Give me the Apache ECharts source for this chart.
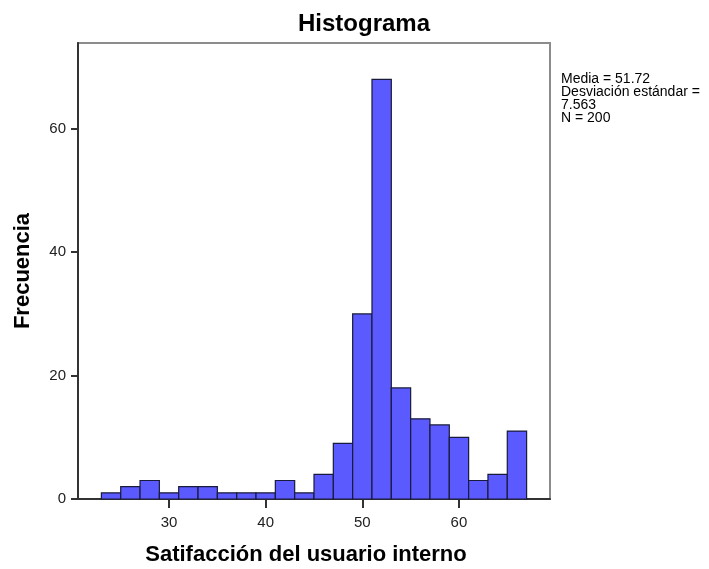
<!DOCTYPE html>
<html>
<head>
<meta charset="utf-8">
<script src="https://cdn.jsdelivr.net/npm/echarts@6/dist/echarts.min.js"></script>
<style>html,body{margin:0;padding:0;background:#fff}#c{width:709px;height:569px}</style>
</head>
<body>
<div id="c"></div>
<script>
// Bin edges (lower edge of each 2-unit bin) and counts
const binStarts = [23,25,27,29,31,33,35,37,39,41,43,45,47,49,51,53,55,57,59,61,63,65];
const binWidth = 2;
const counts = [1,2,3,1,2,2,1,1,1,3,1,4,9,30,68,18,13,12,10,3,4,11];
const xTicks = [30,40,50,60];
const yTicks = [0,20,40,60];
const statsLines = ['Media = 51.72','Desviación estándar =','7.563','N = 200'];

const data = binStarts.map((s,i)=>[s, s+binWidth, counts[i]]);
const font = '"Liberation Sans", Arial, sans-serif';

const chart = echarts.init(document.getElementById('c'));
chart.setOption({
  animation:false,
  title:{text:'Histograma',left:359,top:7,textAlign:'center',
    textStyle:{fontFamily:font,fontWeight:'bold',fontSize:24,color:'#000'}},
  grid:{left:78,top:43,right:159,bottom:70,show:true,borderColor:'#8c8c8c',borderWidth:2,
    containLabel:false,outerBoundsMode:'none'},
  xAxis:{type:'value',min:20.58,max:69.42,
    name:'Satifacción del usuario interno',nameLocation:'middle',nameGap:45,
    nameTextStyle:{fontFamily:font,fontWeight:'bold',fontSize:22,color:'#000',padding:[0,0,0,-16]},
    axisLine:{show:true,lineStyle:{color:'#333',width:2}},
    axisTick:{show:true,length:9,customValues:xTicks,lineStyle:{color:'#333',width:2}},
    axisLabel:{customValues:xTicks,fontFamily:font,fontSize:15,color:'#222',margin:16},
    splitLine:{show:false}},
  yAxis:{type:'value',min:0,max:73.9,
    name:'Frecuencia',nameLocation:'middle',nameGap:44,
    nameTextStyle:{fontFamily:font,fontWeight:'bold',fontSize:22,color:'#000'},
    axisLine:{show:true,lineStyle:{color:'#333',width:2}},
    axisTick:{show:true,length:7,customValues:yTicks,lineStyle:{color:'#333',width:2}},
    axisLabel:{customValues:yTicks,fontFamily:font,fontSize:15,color:'#222',margin:12},
    splitLine:{show:false}},
  graphic:[{type:'text',left:561,top:72,style:{text:statsLines.join('\n'),
    fontFamily:font,fontSize:14,lineHeight:13,fill:'#000'}}],
  series:[{type:'custom',data:data,encode:{x:[0,1],y:2},
    renderItem:function(params,api){
      const p0=api.coord([api.value(0),0]);
      const p1=api.coord([api.value(1),api.value(2)]);
      return {type:'rect',shape:{x:p0[0],y:p1[1],width:p1[0]-p0[0],height:p0[1]-p1[1]},
        style:{fill:'#5a5aff',stroke:'#1a1a3a',lineWidth:1.2}};
    }}]
});
</script>
</body>
</html>
